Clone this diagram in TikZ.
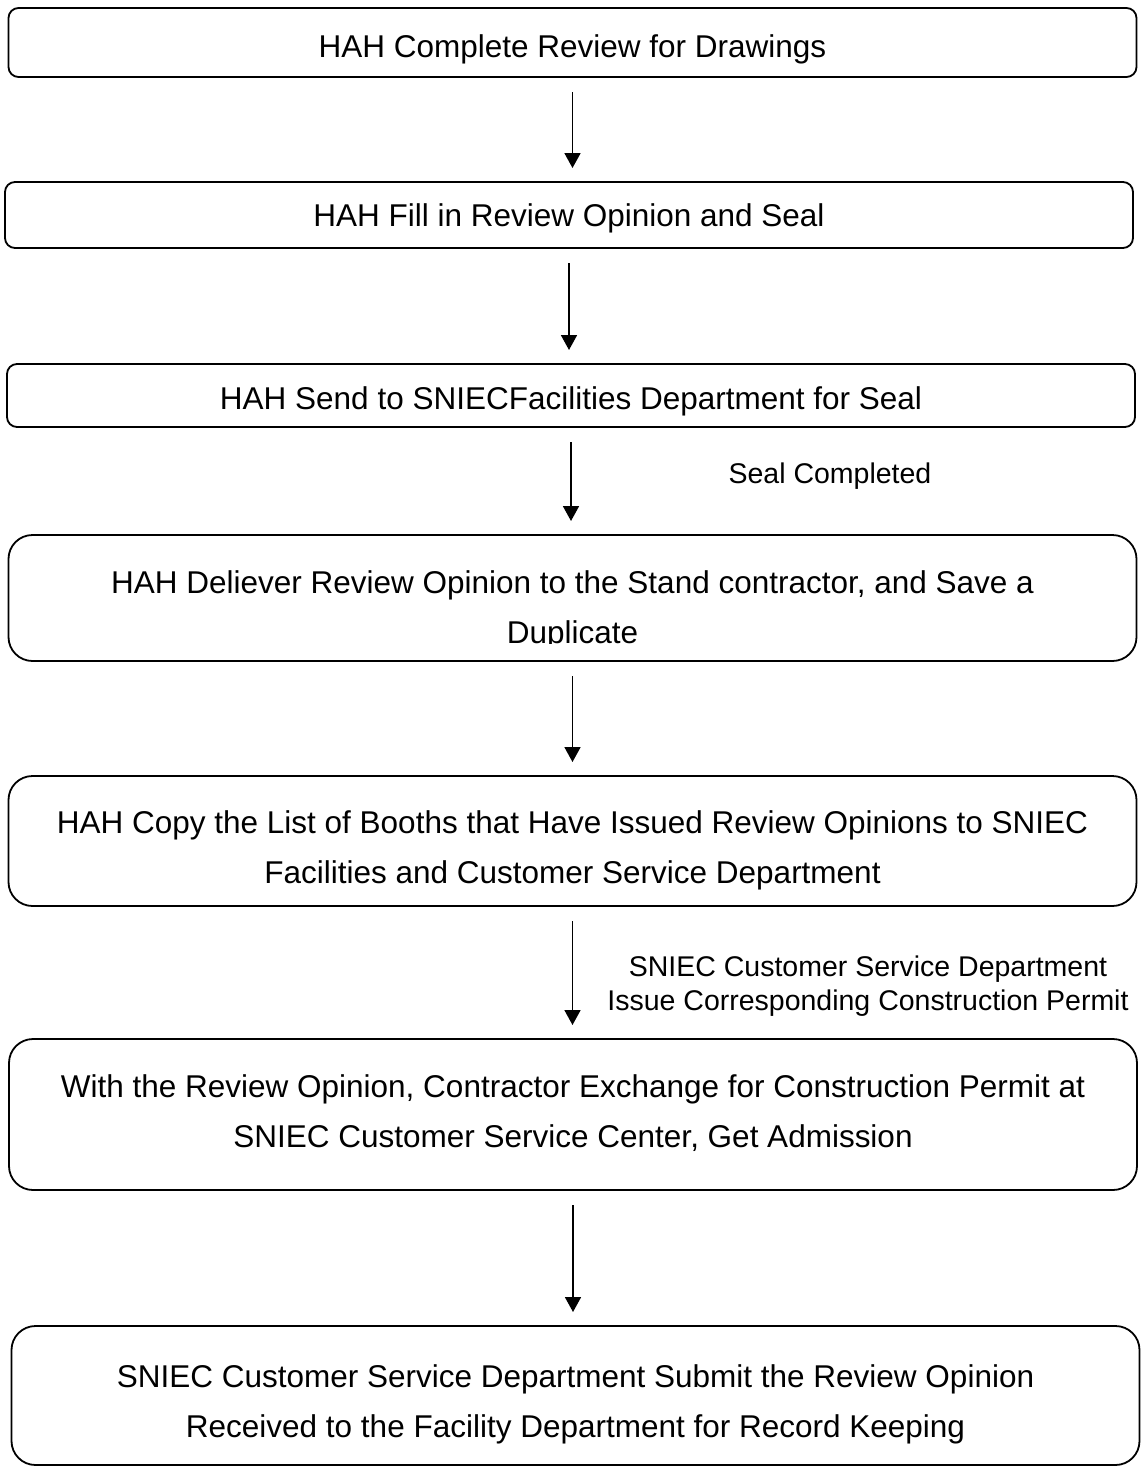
\documentclass[tikz,border=0pt]{standalone}
\usepackage{fontspec}
\setmainfont{Liberation Sans}
\usetikzlibrary{arrows.meta,positioning}

% invisible strut to push the first line of a box down a little
\newcommand{\lift}[1]{\rule{0pt}{#1}}

\begin{document}
\begin{tikzpicture}[x=1pt,y=-1pt,->,>={Triangle[length=15pt,width=16pt]},line width=1.8pt]
    \tikzstyle{every node}=[inner sep=0pt,outer sep=0pt]
    \tikzstyle{stepbox}=[draw,rounded corners=10pt,minimum width=1128pt,text depth=0pt,font=\fontsize{31.5}{50}\selectfont,align=center]
    \tikzstyle{tallbox}=[stepbox,rounded corners=24pt]
    \tikzstyle{boxtext}=[font=\fontsize{31.5}{50}\selectfont,align=center]
    \tikzstyle{lbl}=[font=\fontsize{28.5}{34}\selectfont,align=center]
    \tikzstyle{flow}=[shorten <=15pt,shorten >=14pt]

    \useasboundingbox (0,0) rectangle (1142,1468);

    \node[stepbox,minimum height=69pt] (drawings) at (572.5,42.5) {\lift{29pt}HAH Complete Review for Drawings};
    \node[stepbox,minimum height=66pt] (fillin)   [below=105pt of drawings,xshift=-3.5pt] {HAH Fill in Review Opinion and Seal};
    \node[stepbox,minimum height=63pt] (sendseal) [below=116pt of fillin,xshift=2pt] {\lift{27pt}HAH Send to SNIECFacilities Department for Seal};
    \node[tallbox,minimum height=126pt] (deliver) [below=108pt of sendseal,xshift=1.5pt] {};
    \node[tallbox,minimum height=130pt] (copylist) [below=115pt of deliver] {\lift{35pt}HAH Copy the List of Booths that Have Issued Review Opinions to SNIEC\\Facilities and Customer Service Department};
    \node[tallbox,minimum height=151pt,text depth=6pt] (exchange) [below=133pt of copylist,xshift=.5pt] {With the Review Opinion, Contractor Exchange for Construction Permit at\\SNIEC Customer Service Center, Get Admission};
    \node[tallbox,minimum height=139pt] (submit)   [below=136pt of exchange,xshift=2.5pt] {\lift{33pt}SNIEC Customer Service Department Submit the Review Opinion\\Received to the Facility Department for Record Keeping};

    % text of the fourth box is cut off at its lower edge
    \begin{scope}
        \clip (deliver.north west) rectangle ([yshift=18pt]deliver.south east);
        \node[boxtext] (delivertext) at ([yshift=-12pt]deliver.center) {HAH Deliever Review Opinion to the Stand contractor, and Save a\\Duplicate};
    \end{scope}

    \node[lbl] (sealdone) at (830,476) {Seal Completed};
    \node[lbl] (permit)   at (868,986) {SNIEC Customer Service Department\\Issue Corresponding Construction Permit};

    \draw[flow] (drawings.south) -- (drawings.south |- fillin.north);
    \draw[flow] (fillin.south)   -- (fillin.south |- sendseal.north);
    \draw[flow] (sendseal.south) -- (sendseal.south |- deliver.north);
    \draw[flow] (deliver.south)  -- (deliver.south |- copylist.north);
    \draw[flow] (copylist.south) -- (copylist.south |- exchange.north);
    \draw[flow] (exchange.south) -- (exchange.south |- submit.north);
\end{tikzpicture}
\end{document}
